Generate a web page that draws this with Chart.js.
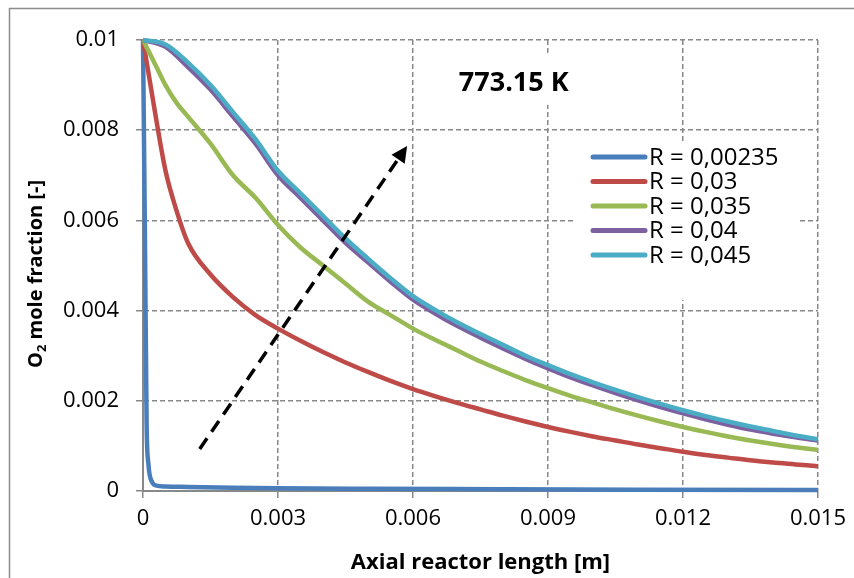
<!DOCTYPE html>
<html>
<head>
<script src="https://cdn.jsdelivr.net/npm/chart.js@4.4.0/dist/chart.umd.min.js"></script>
<style>
  html, body { margin: 0; padding: 0; background: #fff; }
  #wrap { width: 854px; height: 578px; position: relative; }
</style>
</head>
<body>
<div id="wrap"><canvas id="chart"></canvas></div>
<script>
// series labels
var seriesNames = ["R = 0,00235", "R = 0,03", "R = 0,035", "R = 0,04", "R = 0,045"];
var seriesColors = ["#4A7EBB", "#BE4B48", "#98B954", "#7D60A0", "#4BACC6"];

// axial position [m]
var xBlue = [0, 0.00004, 0.00008, 0.00012, 0.0002, 0.0003, 0.0005, 0.001, 0.002, 0.003, 0.005, 0.008, 0.011, 0.015];
var xFine = [0, 0.0001, 0.0002, 0.0003, 0.0005, 0.00075, 0.001, 0.0015, 0.002, 0.0025, 0.003, 0.0035, 0.004, 0.0045,
  0.005, 0.0055, 0.006, 0.0065, 0.007, 0.0075, 0.008, 0.0085, 0.009, 0.0095, 0.01, 0.0105, 0.011, 0.0115,
  0.012, 0.0125, 0.013, 0.0135, 0.014, 0.0145, 0.015];
var xCoarse = [0, 0.0005, 0.001, 0.0015, 0.002, 0.0025, 0.003, 0.0035, 0.004, 0.0045,
  0.005, 0.0055, 0.006, 0.0065, 0.007, 0.0075, 0.008, 0.0085, 0.009, 0.0095, 0.01, 0.0105, 0.011, 0.0115,
  0.012, 0.0125, 0.013, 0.0135, 0.014, 0.0145, 0.015];

// O2 mole fraction
var yR00235 = [0.01, 0.006, 0.0015, 0.0006, 0.0002, 0.00012, 0.0001, 0.00009, 0.00007, 0.00006, 0.00005, 0.00004, 0.00003, 0.00002];
var yR003 = [0.01, 0.0094, 0.0088, 0.0082, 0.0071, 0.0062, 0.0055, 0.0048, 0.0043, 0.0039, 0.0036, 0.00333, 0.00308, 0.00285,
  0.00264, 0.00244, 0.00226, 0.0021, 0.00195, 0.00181, 0.00167, 0.00154, 0.00142, 0.00131, 0.00121, 0.00112, 0.00103, 0.00095,
  0.00087, 0.0008, 0.00074, 0.00068, 0.00063, 0.00059, 0.00055];
var yR0035 = [0.01, 0.0098, 0.0096, 0.0094, 0.0090, 0.0086, 0.0083, 0.0077, 0.0070, 0.0065, 0.0059, 0.0054, 0.0050, 0.0046,
  0.0042, 0.0039, 0.0036, 0.00335, 0.00311, 0.00287, 0.00266, 0.00246, 0.00228, 0.00211, 0.00196, 0.00181, 0.00167, 0.00154,
  0.00142, 0.00131, 0.00121, 0.00112, 0.00104, 0.00097, 0.00091];
var yR004 = [0.01, 0.00985, 0.0094, 0.0089, 0.0083, 0.0077, 0.0070, 0.0065, 0.0060, 0.0055,
  0.00507, 0.00464, 0.00424, 0.00393, 0.00365, 0.0034, 0.00316, 0.00293, 0.00272, 0.00252, 0.00234, 0.00217, 0.00201, 0.00186,
  0.00172, 0.00159, 0.00147, 0.00136, 0.00127, 0.00119, 0.00112];
var yR0045 = [0.01, 0.0099, 0.0095, 0.0090, 0.0084, 0.0078, 0.0071, 0.0066, 0.0061, 0.0056,
  0.00515, 0.00472, 0.00432, 0.00401, 0.00373, 0.00348, 0.00324, 0.003, 0.00279, 0.00259, 0.00241, 0.00224, 0.00208, 0.00193,
  0.00179, 0.00166, 0.00154, 0.00143, 0.00133, 0.00123, 0.00115];

var xTicks = [0, 0.003, 0.006, 0.009, 0.012, 0.015];
var yTicks = [0, 0.002, 0.004, 0.006, 0.008, 0.01];

// annotation (data coordinates)
var tempLabel = "773.15 K";
var tempLabelAt = [0.00824, 0.00905];
var arrowFrom = [0.00126, 0.00093];
var arrowTo = [0.00587, 0.00765];

function pts(xs, ys) {
  return xs.map(function(x, i) { return {x: x, y: ys[i]}; });
}

var allX = [xBlue, xFine, xFine, xCoarse, xCoarse];
var allY = [yR00235, yR003, yR0035, yR004, yR0045];

var datasets = seriesNames.map(function(name, i) {
  return {
    label: name,
    data: pts(allX[i], allY[i]),
    borderColor: seriesColors[i],
    backgroundColor: seriesColors[i],
    borderWidth: 4.5,
    pointRadius: 0,
    cubicInterpolationMode: "monotone",
    fill: false,
    clip: false,
    order: seriesNames.length - i
  };
});

var gridColor = "#888888";

var deco = {
  id: "deco",
  beforeDraw: function(chart) {
    var ctx = chart.ctx;
    ctx.save();
    ctx.fillStyle = "#fff";
    ctx.fillRect(0, 0, chart.width, chart.height);
    ctx.strokeStyle = "#8c8c8c";
    ctx.lineWidth = 1.5;
    ctx.strokeRect(9.5, 8.5, 900, 700);
    ctx.restore();
  },
  beforeDatasetsDraw: function(chart) {
    var ctx = chart.ctx;
    ctx.save();
    ctx.fillStyle = "#fff";
    // legend box and label box hide the grid
    ctx.fillRect(575, 143, 225, 157);
    var sx = chart.scales.x, sy = chart.scales.y;
    ctx.font = "bold 27px 'Open Sans'";
    var w = ctx.measureText(tempLabel).width;
    var cx = sx.getPixelForValue(tempLabelAt[0]), cy = sy.getPixelForValue(tempLabelAt[1]);
    ctx.fillRect(cx - w / 2 - 14, cy - 30, w + 28, 52);
    ctx.restore();
  },
  afterDatasetsDraw: function(chart) {
    var ctx = chart.ctx;
    var sx = chart.scales.x, sy = chart.scales.y;
    ctx.save();
    // arrow
    var x1 = sx.getPixelForValue(arrowFrom[0]), y1 = sy.getPixelForValue(arrowFrom[1]);
    var x2 = sx.getPixelForValue(arrowTo[0]), y2 = sy.getPixelForValue(arrowTo[1]);
    var ang = Math.atan2(y2 - y1, x2 - x1);
    var head = 16;
    var bx = x2 - Math.cos(ang) * head, by = y2 - Math.sin(ang) * head;
    ctx.strokeStyle = "#000";
    ctx.lineWidth = 3.5;
    ctx.setLineDash([13, 8]);
    ctx.beginPath();
    ctx.moveTo(x1, y1);
    ctx.lineTo(bx, by);
    ctx.stroke();
    ctx.setLineDash([]);
    ctx.fillStyle = "#000";
    ctx.beginPath();
    ctx.moveTo(x2, y2);
    ctx.lineTo(bx + Math.sin(ang) * 8, by - Math.cos(ang) * 8);
    ctx.lineTo(bx - Math.sin(ang) * 8, by + Math.cos(ang) * 8);
    ctx.closePath();
    ctx.fill();

    // temperature label
    ctx.font = "bold 27px 'Open Sans'";
    ctx.textAlign = "center";
    ctx.textBaseline = "middle";
    ctx.fillText(tempLabel, sx.getPixelForValue(tempLabelAt[0]), sy.getPixelForValue(tempLabelAt[1]));

    // legend
    ctx.textAlign = "left";
    ctx.font = "24px 'Open Sans'";
    ctx.lineCap = "round";
    chart.data.datasets.forEach(function(ds, i) {
      var ly = 157 + i * 24.5;
      ctx.strokeStyle = ds.borderColor;
      ctx.lineWidth = 5;
      ctx.beginPath();
      ctx.moveTo(593, ly);
      ctx.lineTo(645, ly);
      ctx.stroke();
      ctx.fillStyle = "#000";
      ctx.fillText(ds.label, 649, ly + 1);
    });
    ctx.restore();
  },
  afterDraw: function(chart) {
    // y axis title with subscript
    var ctx = chart.ctx;
    ctx.save();
    ctx.translate(35, 274);
    ctx.rotate(-Math.PI / 2);
    ctx.fillStyle = "#000";
    ctx.textBaseline = "alphabetic";
    var big = "bold 20px 'Open Sans'", small = "bold 13px 'Open Sans'";
    ctx.font = big;
    var wO = ctx.measureText("O").width;
    var rest = " mole fraction [-]";
    var wR = ctx.measureText(rest).width;
    ctx.font = small;
    var w2 = ctx.measureText("2").width;
    var x = -(wO + w2 + wR) / 2;
    ctx.font = big;
    ctx.fillText("O", x, 7);
    ctx.font = small;
    ctx.fillText("2", x + wO, 11);
    ctx.font = big;
    ctx.fillText(rest, x + wO + w2, 7);
    ctx.restore();
  }
};

new Chart(document.getElementById("chart"), {
  type: "line",
  data: { datasets: datasets },
  plugins: [deco],
  options: {
    responsive: true,
    maintainAspectRatio: false,
    animation: false,
    layout: { padding: { left: 0, right: 34, top: 40, bottom: 0 } },
    plugins: { legend: { display: false }, tooltip: { enabled: false } },
    scales: {
      x: {
        type: "linear",
        min: 0,
        max: 0.015,
        afterBuildTicks: function(axis) { axis.ticks = xTicks.map(function(v) { return {value: v}; }); },
        afterFit: function(axis) { axis.height = 87; },
        ticks: {
          color: "#000",
          font: { family: "'Open Sans'", size: 22 },
          padding: 8,
          maxRotation: 0,
          callback: function(v) { return String(+v.toFixed(3)); }
        },
        grid: { color: gridColor, lineWidth: 1.5, tickLength: 7, tickColor: gridColor },
        border: { display: true, color: gridColor, width: 2, dash: [5, 3] },
        title: {
          display: true,
          text: "Axial reactor length [m]",
          color: "#000",
          font: { family: "'Open Sans'", size: 22, weight: "bold" },
          padding: { top: 0, bottom: 2 }
        }
      },
      y: {
        type: "linear",
        min: 0,
        max: 0.01,
        afterBuildTicks: function(axis) { axis.ticks = yTicks.map(function(v) { return {value: v}; }); },
        afterFit: function(axis) { axis.width = 143; },
        ticks: {
          color: "#000",
          font: { family: "'Open Sans'", size: 22 },
          padding: 17,
          callback: function(v) { return String(+v.toFixed(3)); }
        },
        grid: { color: gridColor, lineWidth: 1.5, tickLength: 7, tickColor: gridColor },
        border: { display: true, color: gridColor, width: 2, dash: [5, 3] }
      }
    }
  }
});
</script>
</body>
</html>
